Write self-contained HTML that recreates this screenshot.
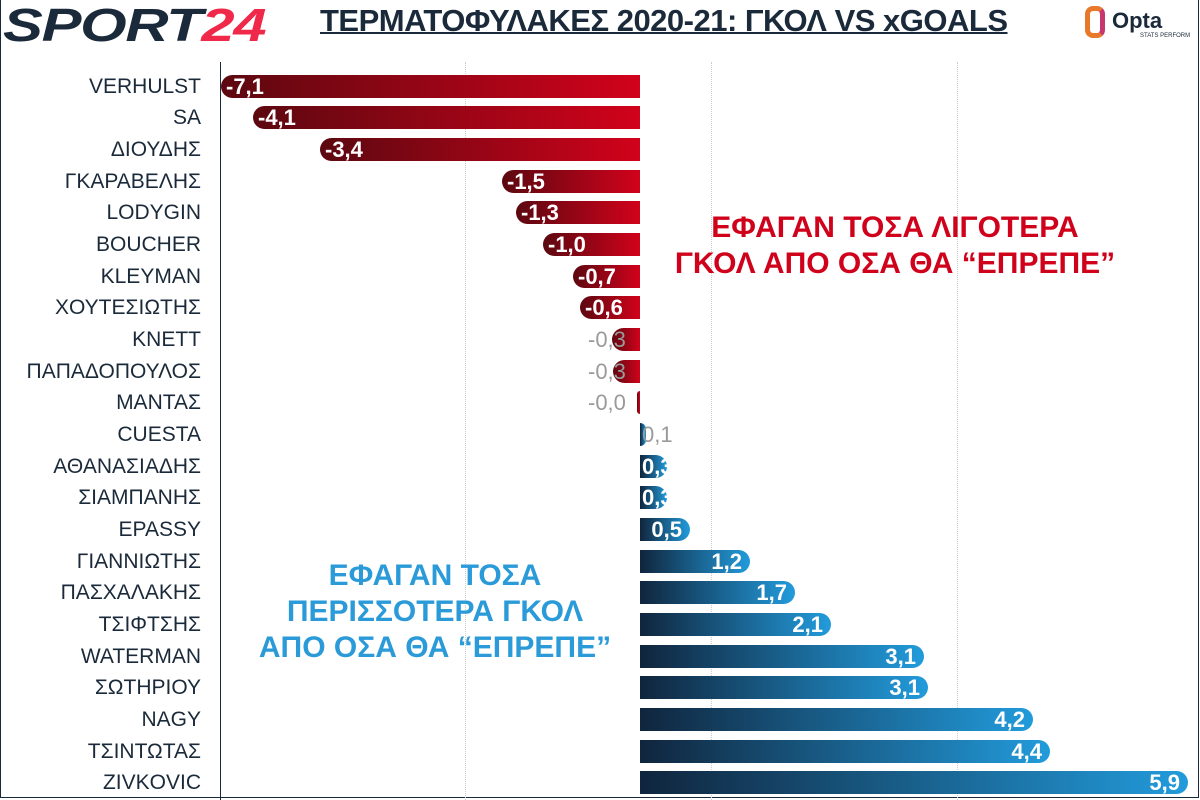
<!DOCTYPE html>
<html><head><meta charset="utf-8"><style>
body{margin:0;width:1200px;height:800px;background:#fff;position:relative;overflow:hidden;font-family:"Liberation Sans","DejaVu Sans",sans-serif}
.frame{position:absolute;left:0;top:0;width:1197px;height:797px;border:1.5px solid #1b2a3a;border-top:none;border-left:1px solid #1b2a3a}
.lbl{position:absolute;left:0;width:201px;text-align:right;font-size:21px;color:#1b2a3a;line-height:23px}
.bar{position:absolute;height:23px}
.neg{border-radius:12px 0 0 12px;background:linear-gradient(90deg,#5c0810,#d1021b)}
.pos{border-radius:0 12px 12px 0;background:linear-gradient(90deg,#10253d,#229bdb)}
.v{position:absolute;color:#fff;font-weight:bold;font-size:22px;line-height:23px;z-index:2}
.g{position:absolute;top:62px;height:738px;border-left:1px dotted #ccc}
</style></head><body>
<div class="frame"></div>
<div style="position:absolute;left:3px;top:-2px;font-size:46px;font-weight:900;font-style:italic;letter-spacing:-1px;color:#1b2a3a;transform:scaleX(1.3);transform-origin:left">SPORT<span style="color:#f0284a">24</span></div>
<div style="position:absolute;left:320px;top:3px;font-size:31px;font-weight:bold;color:#1b2a3a;text-decoration:underline;text-decoration-thickness:2px;letter-spacing:-0.5px">ΤΕΡΜΑΤΟΦΥΛΑΚΕΣ 2020-21: ΓΚΟΛ VS xGOALS</div>
<div style="position:absolute;left:1085px;top:6px;width:20px;height:32px;border:5px solid #e8782a;border-right-color:#c8366e;border-radius:8px;box-sizing:border-box"></div>
<div style="position:absolute;left:1112px;top:8px;font-size:22px;font-weight:bold;color:#1b2a3a">Opta</div>
<div style="position:absolute;left:1140px;top:33px;font-size:6px;color:#1b2a3a">STATS PERFORM</div>
<div class="g" style="left:465px"></div><div class="g" style="left:711px"></div><div class="g" style="left:957px"></div>
<div style="position:absolute;left:220px;top:62px;height:738px;border-left:1px solid #1b2a3a"></div>
<div style="position:absolute;left:645px;top:210px;width:500px;text-align:center;color:#d0021b;font-weight:bold;font-size:30px;line-height:36px">ΕΦΑΓΑΝ ΤΟΣΑ ΛΙΓΟΤΕΡΑ<br>ΓΚΟΛ ΑΠΟ ΟΣΑ ΘΑ “ΕΠΡΕΠΕ”</div>
<div style="position:absolute;left:235px;top:558px;width:400px;text-align:center;color:#2a9ad8;font-weight:bold;font-size:30px;line-height:36px">ΕΦΑΓΑΝ ΤΟΣΑ<br>ΠΕΡΙΣΣΟΤΕΡΑ ΓΚΟΛ<br>ΑΠΟ ΟΣΑ ΘΑ “ΕΠΡΕΠΕ”</div>
<div id="c"></div>
<script>
var d=[["VERHULST",221,"-7,1"],["SA",253,"-4,1"],["ΔΙΟΥΔΗΣ",320,"-3,4"],["ΓΚΑΡΑΒΕΛΗΣ",502,"-1,5"],["LODYGIN",516,"-1,3"],["BOUCHER",543,"-1,0"],["KLEYMAN",573,"-0,7"],["ΧΟΥΤΕΣΙΩΤΗΣ",580,"-0,6"],["KNETT",612,"-0,3"],["ΠΑΠΑΔΟΠΟΥΛΟΣ",613,"-0,3"],["ΜΑΝΤΑΣ",637,"-0,0"],
["CUESTA",646,"0,1"],["ΑΘΑΝΑΣΙΑΔΗΣ",667,"0,3"],["ΣΙΑΜΠΑΝΗΣ",667,"0,3"],["EPASSY",690,"0,5"],["ΓΙΑΝΝΙΩΤΗΣ",750,"1,2"],["ΠΑΣΧΑΛΑΚΗΣ",795,"1,7"],["ΤΣΙΦΤΣΗΣ",831,"2,1"],["WATERMAN",924,"3,1"],["ΣΩΤΗΡΙΟΥ",928,"3,1"],["NAGY",1033,"4,2"],["ΤΣΙΝΤΩΤΑΣ",1050,"4,4"],["ZIVKOVIC",1188,"5,9"]];
var h="";d.forEach(function(r,i){var y=86+i*31.68;
h+='<div class="lbl" style="top:'+(y-11.5)+'px">'+r[0]+'</div>';
var small=Math.abs(r[1]-640)<40;var t=(y-11.5);
if(r[1]<640){h+='<div class="bar neg" style="left:'+r[1]+'px;width:'+(640-r[1])+'px;top:'+t+'px"></div>';
 if(small){h+='<div class="v" style="left:588px;top:'+t+'px;color:#9a9a9a;font-weight:normal">'+r[2]+'</div>';}
 else h+='<div class="v" style="left:'+(r[1]+5)+'px;top:'+t+'px">'+r[2]+'</div>';}
else{h+='<div class="bar pos" style="left:640px;width:'+(r[1]-640)+'px;top:'+t+'px"></div>';
 if(small&&r[1]<680)h+='<div class="v" style="left:642px;top:'+t+'px;'+(r[1]<650?'color:#9a9a9a;font-weight:normal':'')+'">'+r[2]+'</div>';
 else h+='<div class="v" style="right:'+(1200-r[1]+8)+'px;top:'+t+'px">'+r[2]+'</div>';}
});document.getElementById("c").innerHTML=h;
</script>
</body></html>
